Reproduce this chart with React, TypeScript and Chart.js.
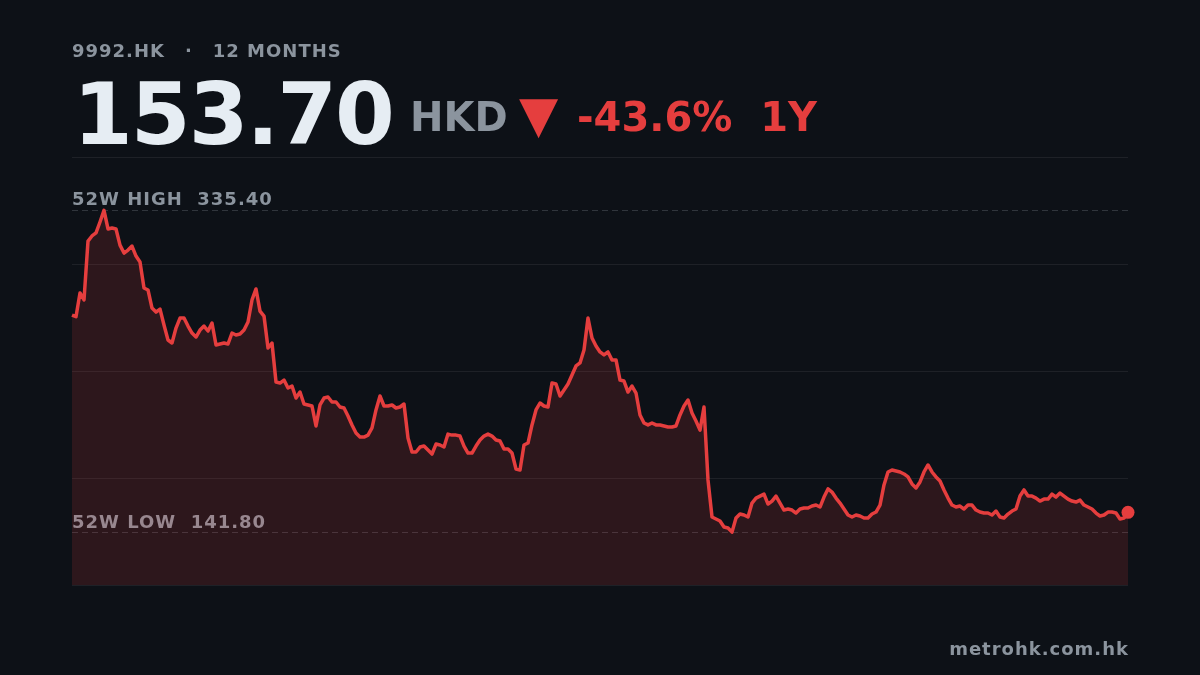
import { useEffect, useRef } from 'react';
import { Chart, registerables } from 'chart.js';

Chart.register(...registerables);

// daily closes, HKD, oldest first
const closes = [
  272.4, 271.4, 285.7, 281.5, 316.9, 320.0, 321.8, 328.4, 335.4, 324.2,
  324.8, 324.2, 314.5, 309.7, 311.5, 313.9, 307.9, 304.3, 288.7, 287.5,
  276.6, 274.2, 276.0, 266.4, 257.4, 255.6, 264.6, 270.6, 270.6, 265.8,
  261.6, 259.2, 263.4, 265.8, 262.8, 267.6, 254.4, 255.0, 255.6, 255.0,
  261.6, 260.4, 261.0, 263.4, 268.2, 281.5, 288.1, 274.8, 271.8, 252.6,
  255.6, 232.1, 231.5, 233.3, 228.5, 229.7, 222.5, 226.1, 218.9, 218.3,
  217.7, 205.7, 218.3, 222.5, 223.1, 220.1, 220.1, 217.1, 216.5, 211.7,
  206.3, 201.4, 199.0, 199.0, 200.2, 204.5, 215.3, 223.7, 217.7, 217.7,
  218.3, 216.5, 217.1, 218.9, 198.4, 190.0, 190.0, 193.0, 193.6, 191.2,
  188.8, 194.8, 194.2, 193.0, 200.8, 200.2, 200.2, 199.6, 193.6, 189.4,
  189.4, 193.6, 197.2, 199.6, 200.8, 199.6, 197.2, 196.6, 191.8, 191.8,
  189.4, 179.8, 179.2, 194.2, 195.4, 206.3, 215.3, 219.5, 217.7, 217.1,
  231.5, 230.9, 223.7, 227.3, 230.9, 236.3, 241.8, 243.6, 251.4, 270.6,
  258.6, 253.8, 250.2, 248.4, 250.2, 245.4, 245.4, 233.3, 232.7, 226.1,
  229.7, 225.5, 212.3, 207.5, 206.3, 207.5, 206.3, 206.3, 205.7, 205.1,
  205.1, 205.7, 212.3, 217.7, 221.3, 213.5, 208.7, 203.2, 217.1, 173.2,
  150.9, 149.7, 148.5, 144.9, 144.3, 141.8, 150.3, 152.7, 152.1, 150.9,
  159.3, 162.3, 163.5, 164.7, 158.7, 160.5, 163.5, 159.3, 155.1, 155.7,
  155.1, 153.3, 155.7, 156.3, 156.3, 157.5, 158.1, 156.9, 162.9, 167.8,
  165.9, 162.3, 159.3, 155.7, 152.1, 150.9, 152.1, 151.5, 150.3, 150.3,
  152.7, 153.9, 158.1, 170.2, 178.0, 179.2, 178.6, 178.0, 176.8, 175.0,
  170.8, 168.4, 172.0, 178.0, 182.2, 178.0, 175.0, 172.6, 167.2, 162.3,
  158.1, 156.9, 157.5, 155.7, 158.1, 158.1, 155.1, 153.9, 153.3, 153.3,
  152.1, 154.5, 150.9, 150.3, 152.7, 154.5, 155.7, 163.5, 167.2, 163.5,
  163.5, 162.3, 160.5, 161.7, 161.7, 164.7, 162.9, 165.3, 163.5, 161.7,
  160.5, 159.9, 161.1, 158.1, 156.9, 155.7, 153.3, 151.5, 152.1, 153.9,
  153.9, 153.3, 149.7, 150.3, 153.7,
];

const high52 = 335.4;
const low52 = 141.8;
const yMin = 110;
const yMax = 367.5;

const BG = '#0d1117';
const GRAY = '#8b949e';
const WHITE = '#e6edf3';
const RED = '#e53e3e';

const rangeLines = {
  id: 'rangeLines',
  beforeDatasetsDraw(chart: Chart) {
    const { ctx, chartArea } = chart;
    const y = chart.scales.y;
    const rows = [
      { value: high52, text: `52W HIGH  ${high52.toFixed(2)}`, lift: 6 },
      { value: low52, text: `52W LOW  ${low52.toFixed(2)}`, lift: 5 },
    ];
    ctx.save();
    for (const r of rows) {
      const py = Math.round(y.getPixelForValue(r.value)) + 0.5;
      ctx.strokeStyle = 'rgba(139,148,158,0.28)';
      ctx.lineWidth = 1;
      ctx.setLineDash([6, 4]);
      ctx.beginPath();
      ctx.moveTo(chartArea.left, py);
      ctx.lineTo(chartArea.right, py);
      ctx.stroke();
      ctx.fillStyle = GRAY;
      ctx.font = 'bold 18px "DejaVu Sans"';
      (ctx as any).letterSpacing = '1px';
      ctx.textBaseline = 'alphabetic';
      ctx.fillText(r.text, chartArea.left, py - r.lift);
    }
    ctx.restore();
  },
};

function PriceChart() {
  const canvasRef = useRef<HTMLCanvasElement>(null);
  const chartRef = useRef<Chart | null>(null);

  useEffect(() => {
    if (!canvasRef.current) return;
    if (chartRef.current) chartRef.current.destroy();

    const last = closes.length - 1;
    chartRef.current = new Chart(canvasRef.current, {
      type: 'line',
      data: {
        labels: closes.map((_, i) => i),
        datasets: [{
          data: closes,
          borderColor: RED,
          borderWidth: 3.5,
          borderJoinStyle: 'round',
          backgroundColor: 'rgba(229,62,62,0.15)',
          fill: 'start',
          tension: 0,
          clip: false,
          pointRadius: (c: any) => (c.dataIndex === last ? 6.5 : 0),
          pointHoverRadius: 0,
          pointBackgroundColor: RED,
          pointBorderWidth: 0,
        }],
      },
      options: {
        animation: false,
        responsive: true,
        maintainAspectRatio: false,
        layout: { padding: { left: 72, right: 72, top: 157, bottom: 90 } },
        scales: {
          x: { display: false },
          y: {
            min: yMin,
            max: yMax,
            afterBuildTicks: (s: any) => {
              s.ticks = [0, 1, 2, 3, 4].map(k => ({ value: yMin + (k * (yMax - yMin)) / 4 }));
            },
            ticks: { display: false },
            border: { display: false },
            grid: { color: 'rgba(255,255,255,0.07)', drawTicks: false },
          },
        },
        plugins: {
          legend: { display: false },
          tooltip: { enabled: false },
        },
      },
      plugins: [rangeLines],
    });

    return () => {
      if (chartRef.current) {
        chartRef.current.destroy();
        chartRef.current = null;
      }
    };
  }, []);

  return <canvas ref={canvasRef} />;
}

const font = '"DejaVu Sans", sans-serif';

export default function App() {
  const change = ((closes[closes.length - 1] / closes[0] - 1) * 100).toFixed(1);
  return (
    <div style={{ position: 'fixed', left: 0, top: 0, width: 1200, height: 675, background: BG, fontFamily: font, fontWeight: 'bold', overflow: 'hidden' }}>
      <div style={{ position: 'absolute', left: 0, top: 0, width: 1200, height: 675 }}>
        <PriceChart />
      </div>
      <div style={{ position: 'absolute', left: 72, top: 42, fontSize: 18, lineHeight: '18px', letterSpacing: 1, color: GRAY, whiteSpace: 'pre' }}>
        9992.HK<span style={{ margin: '0 20px' }}>·</span>12 MONTHS
      </div>
      <div style={{ position: 'absolute', left: 73, top: 71, fontSize: 86, lineHeight: '86px', letterSpacing: -2, color: WHITE }}>
        {closes[closes.length - 1].toFixed(2)}
      </div>
      <div style={{ position: 'absolute', left: 410, top: 97, fontSize: 40, lineHeight: '40px', color: GRAY }}>HKD</div>
      <div style={{ position: 'absolute', left: 519, top: 89, fontSize: 51, lineHeight: '51px', color: RED }}>▼</div>
      <div style={{ position: 'absolute', left: 577, top: 97, fontSize: 40, lineHeight: '40px', color: RED, whiteSpace: 'pre' }}>
        {`${change}%  1Y`}
      </div>
      <div style={{ position: 'absolute', right: 71, top: 640, fontSize: 18, lineHeight: '18px', letterSpacing: 1, color: GRAY }}>
        metrohk.com.hk
      </div>
    </div>
  );
}
